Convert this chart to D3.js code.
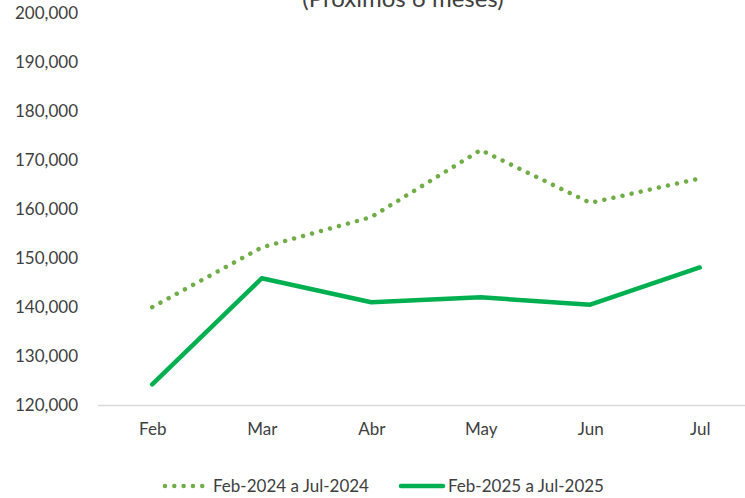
<!DOCTYPE html>
<html>
<head>
<meta charset="utf-8">
<script src="https://cdn.jsdelivr.net/npm/d3@7"></script>
<style>
  html, body { margin: 0; padding: 0; background: #ffffff; }
  svg { display: block; font-family: Lato, "Open Sans", sans-serif; }
</style>
</head>
<body>
<svg id="chart" width="745" height="498"></svg>
<script>
// Months shown on the category axis
const months = ["Feb", "Mar", "Abr", "May", "Jun", "Jul"];
// Monthly values for each period
const values2024 = [140000, 152200, 158400, 172100, 161300, 166300];
const values2025 = [124200, 145900, 141000, 142000, 140500, 148100];
// Value-axis ticks
const yTicks = [120000, 130000, 140000, 150000, 160000, 170000, 180000, 190000, 200000];
const seriesNames = ["Feb-2024 a Jul-2024", "Feb-2025 a Jul-2025"];
const titleText = "(Próximos 6 meses)";

const svg = d3.select("#chart");
const textColor = "#404040";

const x = d3.scalePoint().domain(months).range([97.5, 754.5]).padding(0.5);
const y = d3.scaleLinear().domain([120000, 200000]).range([405, 13.5]);

// Title (partially above the top edge)
svg.append("text")
  .attr("x", 403).attr("y", 7)
  .attr("text-anchor", "middle")
  .attr("font-size", 24)
  .attr("fill", textColor)
  .text(titleText);

// Value axis labels
const yAxis = d3.axisLeft(y)
  .tickValues(yTicks)
  .tickSize(0)
  .tickPadding(0)
  .tickFormat(d3.format(","));
const yg = svg.append("g").attr("transform", "translate(78,0)").call(yAxis);
yg.select(".domain").remove();
yg.selectAll("text")
  .attr("font-size", 17)
  .attr("font-family", "Lato, 'Open Sans', sans-serif")
  .attr("fill", textColor);

// Category axis
const xAxis = d3.axisBottom(x).tickSize(0).tickPadding(0);
const xg = svg.append("g").attr("transform", "translate(0,405)").call(xAxis);
xg.select(".domain").attr("stroke", "#d9d9d9").attr("stroke-width", 1.5);
xg.selectAll("text")
  .attr("dy", null)
  .attr("y", 30)
  .attr("font-size", 17)
  .attr("font-family", "Lato, 'Open Sans', sans-serif")
  .attr("fill", textColor);

const line = d3.line()
  .x((d, i) => x(months[i]))
  .y(d => y(d));

// 2024 series: round-dotted line
svg.append("path")
  .datum(values2024)
  .attr("d", line)
  .attr("fill", "none")
  .attr("stroke", "#70ad47")
  .attr("stroke-width", 4.5)
  .attr("stroke-linecap", "round")
  .attr("stroke-dasharray", "0.01 9.3");

// 2025 series: solid line
svg.append("path")
  .datum(values2025)
  .attr("d", line)
  .attr("fill", "none")
  .attr("stroke", "#00b050")
  .attr("stroke-width", 4.5)
  .attr("stroke-linecap", "round")
  .attr("stroke-linejoin", "round");

// Legend
const legendY = 486;
const legend = svg.append("g");
legend.append("line")
  .attr("x1", 165).attr("x2", 206).attr("y1", legendY).attr("y2", legendY)
  .attr("stroke", "#70ad47").attr("stroke-width", 4.5)
  .attr("stroke-linecap", "round").attr("stroke-dasharray", "0.01 9.3");
legend.append("text")
  .attr("x", 213).attr("y", legendY).attr("dy", "0.35em")
  .attr("font-size", 17).attr("fill", textColor)
  .text(seriesNames[0]);
legend.append("line")
  .attr("x1", 401).attr("x2", 443).attr("y1", legendY).attr("y2", legendY)
  .attr("stroke", "#00b050").attr("stroke-width", 4.5)
  .attr("stroke-linecap", "round");
legend.append("text")
  .attr("x", 448).attr("y", legendY).attr("dy", "0.35em")
  .attr("font-size", 17).attr("fill", textColor)
  .text(seriesNames[1]);
</script>
</body>
</html>
